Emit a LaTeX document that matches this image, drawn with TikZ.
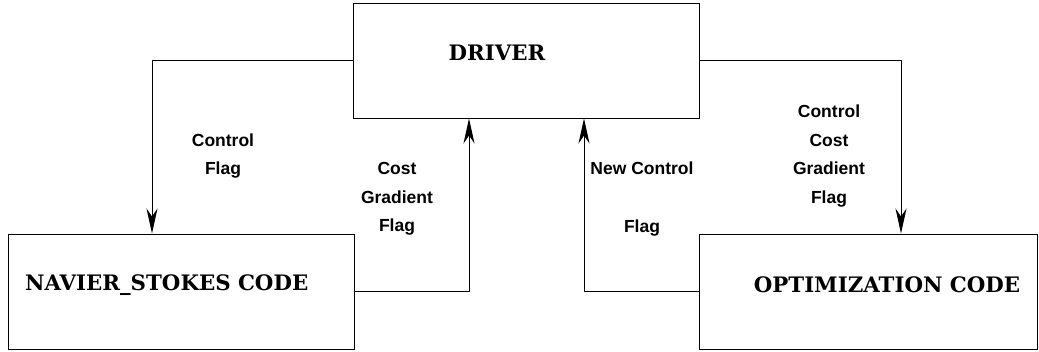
\documentclass[tikz,border=0pt]{standalone}
\usepackage{fontspec}
\setmainfont{Liberation Sans}
\newfontfamily\boxfont{DejaVu Serif}[BoldFont={DejaVu Serif Bold}]
\usetikzlibrary{arrows.meta,positioning,calc}
\tikzset{
  blk/.style={draw, line width=1pt, inner sep=0pt},
  blktxt/.style={font=\boxfont\bfseries\fontsize{21.3}{24}\selectfont, inner sep=0pt},
  lbl/.style={font=\bfseries\fontsize{17.5}{28.7}\selectfont, align=center, inner sep=0pt},
  ar/.style={-{Stealth[length=25pt, width=11pt, inset=8pt]}, line width=1pt},
}
\begin{document}
\begin{tikzpicture}[x=1pt, y=-1pt]
    \useasboundingbox (0,0) rectangle (1039,351);
    % the three boxes
    \node[blk, minimum width=346pt, minimum height=115pt] (driver) at (526,60.5) {};
    \node[blk, minimum width=346pt, minimum height=115pt] (navier) at (181,291.5) {};
    \node[blk, minimum width=338pt, minimum height=115pt] (optim) at (868,291.5) {};

    \node[blktxt] (drivertxt) at (497,53) {DRIVER};
    \node[blktxt, anchor=west] (naviertxt) at (25,285) {NAVIER\_STOKES CODE};
    \node[blktxt] (optimtxt) at (887,285) {OPTIMIZATION CODE};

    % flows
    \draw[ar] (driver.west) -| ([xshift=-29pt]navier.north);
    \draw[ar] (navier.east) -| ([xshift=-57pt]driver.south);
    \draw[ar] (optim.west) -| ([xshift=58pt]driver.south);
    \draw[ar] (driver.east) -| ([xshift=33pt]optim.north);

    \node[lbl] (lbl1) at (223,156) {Control\\Flag};
    \node[lbl] (lbl2) at (397,199) {Cost\\Gradient\\Flag};
    \node[lbl] (lbl3) at (642,199) {New Control\\[28.7pt]Flag};
    \node[lbl] (lbl4) at (829,156) {Control\\Cost\\Gradient\\Flag};
  \end{tikzpicture}
\end{document}
